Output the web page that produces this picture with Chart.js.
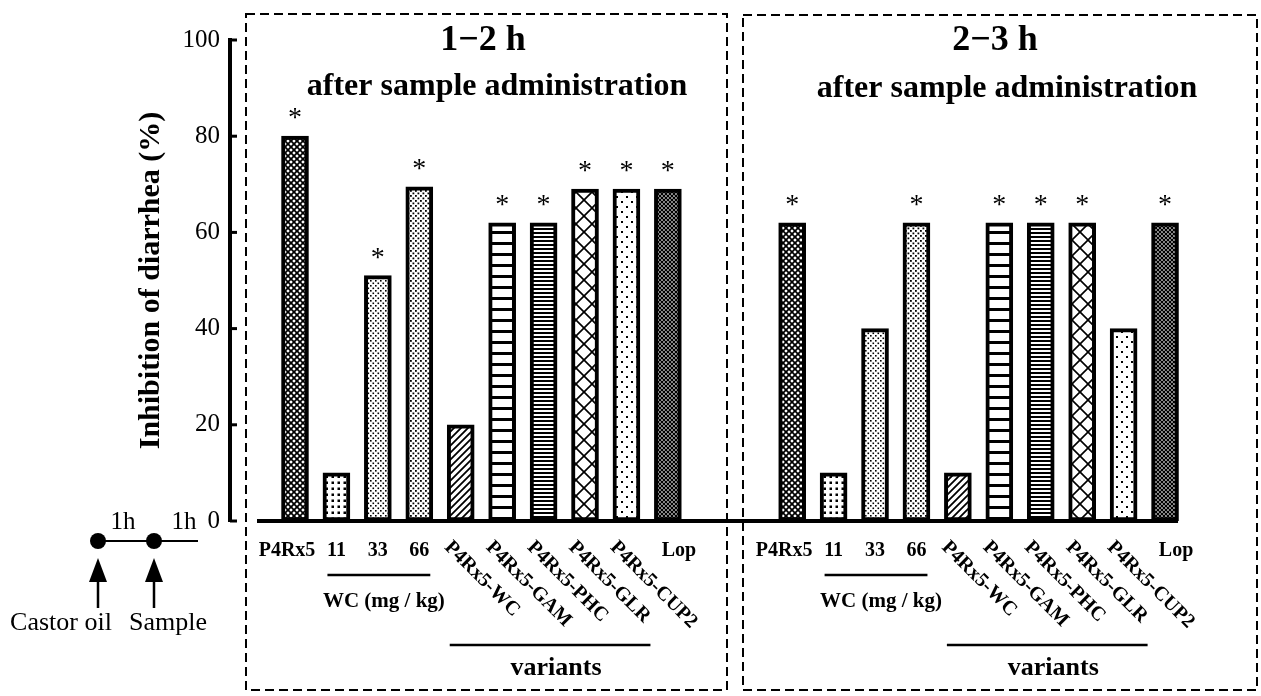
<!DOCTYPE html>
<html lang="en">
<head>
  <meta charset="UTF-8" />
  <title>Inhibition of diarrhea</title>
  <script src="https://cdn.jsdelivr.net/npm/chart.js"></script>
  <style>
    body {
      margin: 0;
      background: #fff;
    }
    #wrap {
      position: relative;
      width: 1261px;
      height: 696px;
    }
  </style>
</head>
<body>

  <div id="wrap"><canvas id="diarrheaChart"></canvas></div>

  <script>
    // groups on the x axis (same order in both panels)
    const categories = ['P4Rx5', '11', '33', '66', 'P4Rx5-WC', 'P4Rx5-GAM', 'P4Rx5-PHC', 'P4Rx5-GLR', 'P4Rx5-CUP2', 'Lop'];
    // inhibition of diarrhea (%)
    const inhibition1to2h = [80, 10, 51, 69.5, 20, 62, 62, 69, 69, 69];
    const inhibition2to3h = [62, 10, 40, 62, 10, 62, 62, 62, 40, 62];
    // significance marks (*)
    const signif1to2h = [true, false, true, true, false, true, true, true, true, true];
    const signif2to3h = [true, false, false, true, false, true, true, true, false, true];
    const yTicks = [0, 20, 40, 60, 80, 100];
    const panelTitles = ['1\u22122 h', '2\u22123 h'];
    const panelSubtitle = 'after sample administration';

    const SERIF = "'Liberation Serif', 'Times New Roman', serif";
    const PANEL_GAP = 12; // index where the second panel starts

    // fill patterns for the bars
    function makePattern(size, draw) {
      const c = document.createElement('canvas');
      c.width = c.height = size;
      const g = c.getContext('2d');
      g.fillStyle = '#fff';
      g.fillRect(0, 0, size, size);
      g.fillStyle = '#000';
      g.strokeStyle = '#000';
      draw(g, size);
      return g.createPattern(c, 'repeat');
    }
    function diag(g, s, w, dir) {
      g.lineWidth = w;
      g.beginPath();
      for (let k = -1; k <= 1; k++) {
        if (dir > 0) { g.moveTo(-1 + k * s, s + 1); g.lineTo(s + 1 + k * s, -1); }
        else { g.moveTo(-1 + k * s, -1); g.lineTo(s + 1 + k * s, s + 1); }
      }
      g.stroke();
    }
    const patterns = [
      makePattern(6, (g, s) => { diag(g, s, 1.7, 1); diag(g, s, 1.7, -1); }),
      makePattern(6, (g) => { g.fillRect(1.5, 1.5, 2.5, 2.5); }),
      makePattern(5, (g) => { g.fillRect(0, 0, 1.6, 1.6); g.fillRect(2.5, 2.5, 1.6, 1.6); }),
      makePattern(5, (g) => { g.fillRect(0, 0, 1.8, 1.8); g.fillRect(2.5, 2.5, 1.8, 1.8); }),
      makePattern(7, (g, s) => { diag(g, s, 1.8, 1); }),
      makePattern(11, (g) => { g.fillRect(0, 0, 11, 3); }),
      makePattern(4, (g) => { g.fillRect(0, 0, 4, 2); }),
      makePattern(16, (g, s) => { diag(g, s, 1.6, 1); diag(g, s, 1.6, -1); }),
      makePattern(10, (g) => { g.fillRect(1, 1, 2, 2); g.fillRect(6, 6, 2, 2); }),
      makePattern(4, (g, s) => { diag(g, s, 1.4, 1); diag(g, s, 1.4, -1); })
    ];

    const points = [];
    const fills = [];
    const stars = [];
    inhibition1to2h.forEach((v, i) => { points.push({ x: i, y: v }); fills.push(patterns[i]); stars.push(signif1to2h[i]); });
    inhibition2to3h.forEach((v, i) => { points.push({ x: i + PANEL_GAP, y: v }); fills.push(patterns[i]); stars.push(signif2to3h[i]); });

    const decor = {
      id: 'decor',
      afterDatasetsDraw(chart) {
        const ctx = chart.ctx;
        const meta = chart.getDatasetMeta(0);
        const xs = chart.scales.x;
        const ys = chart.scales.y;
        const y0 = ys.getPixelForValue(0);
        ctx.save();

        // baseline
        ctx.strokeStyle = '#000';
        ctx.lineWidth = 4;
        ctx.beginPath();
        ctx.moveTo(meta.data[0].x - 38, y0);
        ctx.lineTo(meta.data[meta.data.length - 1].x + 13, y0);
        ctx.stroke();

        // inward y ticks
        ctx.lineWidth = 3;
        ys.ticks.forEach(t => {
          const py = ys.getPixelForValue(t.value);
          ctx.beginPath();
          ctx.moveTo(chart.chartArea.left, py);
          ctx.lineTo(chart.chartArea.left + 7, py);
          ctx.stroke();
        });

        // asterisks
        ctx.fillStyle = '#000';
        ctx.font = '28px ' + SERIF;
        ctx.textAlign = 'center';
        ctx.textBaseline = 'alphabetic';
        meta.data.forEach((bar, k) => {
          if (stars[k]) ctx.fillText('*', bar.x, bar.y - 10);
        });

        // category labels and group lines for each panel
        [0, PANEL_GAP].forEach((off, p) => {
          categories.forEach((lab, i) => {
            const cx = xs.getPixelForValue(i + off);
            ctx.font = 'bold 20px ' + SERIF;
            if (lab.startsWith('P4Rx5-')) {
              ctx.save();
              ctx.translate(cx - 17, 548);
              ctx.rotate(Math.PI / 4);
              ctx.textAlign = 'left';
              ctx.textBaseline = 'alphabetic';
              ctx.fillText(lab, 0, 0);
              ctx.restore();
            } else {
              const nudge = lab === 'Lop' ? 11 : (lab === 'P4Rx5' ? -8 : 0);
              ctx.textAlign = 'center';
              ctx.textBaseline = 'middle';
              ctx.fillText(lab, cx + nudge, 551);
            }
          });
          ctx.lineWidth = 2.5;
          const w1 = xs.getPixelForValue(1 + off) - 9;
          const w2 = xs.getPixelForValue(3 + off) + 11;
          ctx.beginPath(); ctx.moveTo(w1, 575); ctx.lineTo(w2, 575); ctx.stroke();
          ctx.textAlign = 'center';
          ctx.textBaseline = 'middle';
          ctx.font = 'bold 21px ' + SERIF;
          ctx.fillText('WC (mg / kg)', (w1 + w2) / 2 + 5, 602);
          const v1 = xs.getPixelForValue(4 + off) - 11;
          const v2 = xs.getPixelForValue(8 + off) + 24;
          ctx.beginPath(); ctx.moveTo(v1, 645); ctx.lineTo(v2, 645); ctx.stroke();
          ctx.font = 'bold 26px ' + SERIF;
          ctx.fillText('variants', (v1 + v2) / 2 + 6, 668);
        });

        // dashed panel boxes + titles
        const boxes = [[246, 14, 727, 690, 483, 497, 50, 95], [743, 15, 1257, 690, 995, 1007, 50, 97]];
        ctx.setLineDash([9, 5]);
        ctx.lineWidth = 2;
        boxes.forEach((b, p) => {
          ctx.strokeRect(b[0], b[1], b[2] - b[0], b[3] - b[1]);
        });
        ctx.setLineDash([]);
        ctx.textBaseline = 'alphabetic';
        boxes.forEach((b, p) => {
          ctx.font = 'bold 36px ' + SERIF;
          ctx.fillText(panelTitles[p], b[4], b[6]);
          ctx.font = 'bold 32px ' + SERIF;
          ctx.fillText(panelSubtitle, b[5], b[7]);
        });

        // timeline inset: castor oil -> 1h -> sample -> 1h
        ctx.lineWidth = 2;
        ctx.beginPath(); ctx.moveTo(98, 541); ctx.lineTo(198, 541); ctx.stroke();
        [98, 154].forEach(x => {
          ctx.beginPath(); ctx.arc(x, 541, 8, 0, Math.PI * 2); ctx.fill();
          ctx.beginPath(); ctx.moveTo(x, 558); ctx.lineTo(x + 9, 582); ctx.lineTo(x - 9, 582); ctx.closePath(); ctx.fill();
          ctx.lineWidth = 2.5;
          ctx.beginPath(); ctx.moveTo(x, 580); ctx.lineTo(x, 608); ctx.stroke();
        });
        ctx.font = '25px ' + SERIF;
        ctx.textBaseline = 'middle';
        ctx.fillText('1h', 123, 522);
        ctx.fillText('1h', 184, 522);
        ctx.font = '26px ' + SERIF;
        ctx.fillText('Castor oil', 61, 623);
        ctx.fillText('Sample', 168, 623);

        ctx.restore();
      }
    };

    const ctx = document.getElementById('diarrheaChart').getContext('2d');

    new Chart(ctx, {
      type: 'bar',
      data: {
        datasets: [{
          data: points,
          backgroundColor: fills,
          borderColor: '#000',
          borderWidth: 4,
          borderSkipped: false,
          barThickness: 27
        }]
      },
      options: {
        responsive: true,
        maintainAspectRatio: false,
        animation: false,
        layout: {
          padding: { left: 133, right: 61, top: 40, bottom: 175 }
        },
        scales: {
          x: {
            type: 'linear',
            display: false,
            offset: false,
            min: -1.569,
            max: 21.844
          },
          y: {
            min: 0,
            max: 100,
            afterFit(scale) { scale.width = 97; },
            afterBuildTicks(scale) { scale.ticks = yTicks.map(v => ({ value: v })); },
            grid: { display: false, drawTicks: false },
            border: { display: true, width: 4, color: '#000' },
            ticks: {
              padding: 10,
              color: '#000',
              font: { family: SERIF, size: 25 }
            },
            title: {
              display: true,
              text: 'Inhibition of diarrhea (%)',
              color: '#000',
              padding: 0,
              font: { family: SERIF, size: 30, weight: 'bold' }
            }
          }
        },
        plugins: {
          legend: { display: false },
          tooltip: { enabled: false }
        }
      },
      plugins: [decor]
    });
  </script>

</body>
</html>
